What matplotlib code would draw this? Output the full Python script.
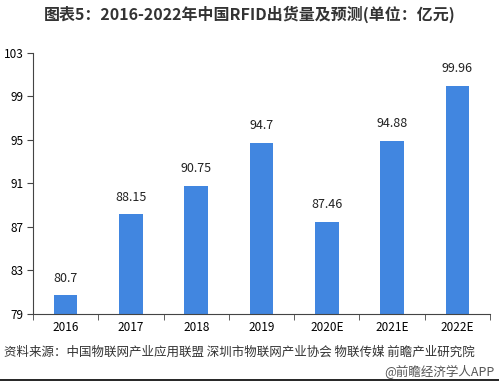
import matplotlib.pyplot as plt
import matplotlib.lines as mlines

plt.rcParams['font.family'] = ['Noto Sans CJK SC', 'DejaVu Sans']

years = ['2016', '2017', '2018', '2019', '2020E', '2021E', '2022E']
values = [80.7, 88.15, 90.75, 94.7, 87.46, 94.88, 99.96]
yticks = [79, 83, 87, 91, 95, 99, 103]

fig = plt.figure(figsize=(4.99, 3.89), dpi=100)
ax = fig.add_axes([0.066, 0.193, 0.916, 0.671])

x = range(len(years))
ax.bar(x, values, width=0.36, color='#4186E0', zorder=2)
for i, v in enumerate(values):
    ax.text(i, v + 1.0, '{:g}'.format(v), ha='center', va='bottom', fontsize=9, color='#222222')

ax.set_ylim(79, 103)
ax.set_xlim(-0.5, len(years) - 0.5)
ax.set_yticks(yticks)
ax.set_yticklabels([str(t) for t in yticks], fontsize=8.5)
ax.set_xticks(list(x))
ax.set_xticklabels(years, fontsize=8.5)
ax.set_xticks([i + 0.5 for i in range(-1, len(years))], minor=True)
ax.tick_params(axis='x', which='major', length=0, pad=5)
ax.tick_params(axis='x', which='minor', length=4, direction='out', color='#444444')
ax.tick_params(axis='y', length=4, direction='out', color='#444444', pad=3)
ax.spines['top'].set_visible(False)
ax.spines['right'].set_visible(False)
ax.spines['left'].set_color('#444444')
ax.spines['bottom'].set_color('#444444')

fig.text(0.5, 0.962, '图表5：2016-2022年中国RFID出货量及预测(单位：亿元)', ha='center', va='center',
         fontsize=11.5, fontweight='bold', color='#333333')
fig.text(0.008, 0.095, '资料来源：中国物联网产业应用联盟 深圳市物联网产业协会 物联传媒 前瞻产业研究院',
         ha='left', va='center', fontsize=9, color='#333333')
fig.text(0.99, 0.043, '@前瞻经济学人APP', ha='right', va='center', fontsize=9, color='#555555')
fig.add_artist(mlines.Line2D([0, 1], [0.022, 0.022], color='black', lw=1.2))

fig.savefig('out.png', dpi=100)
